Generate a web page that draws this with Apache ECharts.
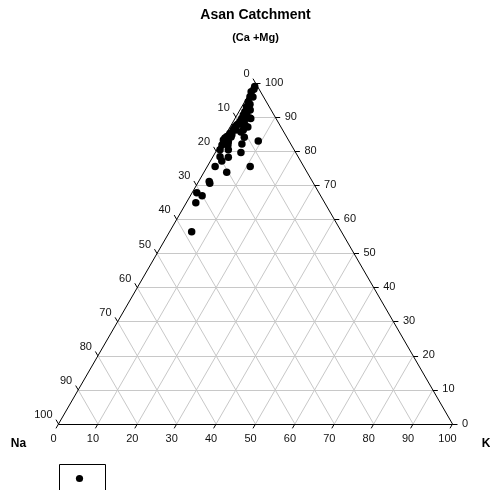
<!DOCTYPE html>
<html><head><meta charset="utf-8">
<script src="https://cdn.jsdelivr.net/npm/echarts@6/dist/echarts.min.js"></script>
<style>html,body{margin:0;padding:0;background:#fff}#c{width:490px;height:490px}</style>
</head><body><div id="c"></div>
<script>
// ---- data (percentages) ----
const tickValues = [0,10,20,30,40,50,60,70,80,90,100];
const chartTitle = 'Asan Catchment';
const apexLabel = '(Ca +Mg)';
const leftVertexLabel = 'Na';
const rightVertexLabel = 'K';

const caMg = [99.0,98.2,96.0,94.5,93.0,91.6,90.6,89.6,89.6,88.7,87.7,87.7,86.2,86.2,85.2,84.3,84.1,83.3,82.8,83.0,82.1,80.4,80.4,79.6,78.4,78.2,77.1,75.5,75.5,73.8,71.1,70.6,67.8,66.9,64.9,56.4,
              97.4,95.9,93.8,92.1,91.2,89.7,89.4,87.1,88.0,85.6,86.2,84.8,87.1,84.2,87.7,83.9,81.8,81.8];
const kPct = [0.3,0.5,0.6,0.9,1.2,1.5,1.6,1.7,4.0,1.7,1.4,3.5,1.2,3.8,0.9,0.6,5.1,0.2,1.7,9.2,5.5,0.8,2.9,6.5,1.8,4.0,2.9,2.0,10.9,5.8,2.7,3.1,1.2,3.0,2.4,5.6,
              0.2,1.4,1.7,2.6,2.2,3.7,2.6,4.5,1.6,3.5,1.9,1.6,1.2,1.7,3.0,0.3,2.1,0.6];
const naPct = [0.7,1.3,3.4,4.6,5.8,6.9,7.8,8.7,6.4,9.6,10.9,8.8,12.6,10.0,13.9,15.1,10.8,16.5,15.5,7.8,12.4,18.8,16.7,13.9,19.8,17.8,20.0,22.5,13.6,20.4,26.2,26.3,31.0,30.1,32.7,38.0,
              2.4,2.7,4.5,5.3,6.6,6.6,8.0,8.4,10.4,10.9,11.9,13.6,11.7,14.1,9.3,15.8,16.1,17.6];

// ---- ternary -> cartesian (data units) ----
const H = Math.sqrt(3) / 2;
function toXY(c, k, na) {
  const s = c + k + na;
  c = c / s * 100; k = k / s * 100;
  return [k + c / 2, c * H];
}
const FONT = '"Liberation Sans", Arial, sans-serif';
const TL = 1.27; // tick length in data units (~5px)

const gridSegs = [];
for (const v of tickValues) {
  if (v === 0 || v === 100) continue;
  gridSegs.push({coords: [toXY(v, 0, 100 - v), toXY(v, 100 - v, 0)]});
  gridSegs.push({coords: [toXY(0, v, 100 - v), toXY(100 - v, v, 0)]});
  gridSegs.push({coords: [toXY(0, 100 - v, v), toXY(100 - v, 0, v)]});
}
const A = toXY(0, 0, 100), B = toXY(0, 100, 0), C = toXY(100, 0, 0);
const edgeSegs = [{coords: [A, B]}, {coords: [B, C]}, {coords: [C, A]}];
const tickSegs = [];
const bottomPts = [], rightPts = [], leftPts = [];
for (const t of tickValues) {
  const pb = toXY(0, t, 100 - t);
  tickSegs.push({coords: [pb, [pb[0] - 0.5 * TL, pb[1] - H * TL]]});
  bottomPts.push([pb, t]);
  const pr = toXY(t, 100 - t, 0);
  tickSegs.push({coords: [pr, [pr[0] + TL, pr[1]]]});
  rightPts.push([pr, t]);
  const pl = toXY(100 - t, 0, t);
  tickSegs.push({coords: [pl, [pl[0] - 0.5 * TL, pl[1] + H * TL]]});
  leftPts.push([pl, t]);
}

function labelSeries(pts, dx, dy, align) {
  return {
    type: 'scatter', symbolSize: 1, silent: true, clip: false, z: 6,
    itemStyle: {color: 'rgba(0,0,0,0)', opacity: 1},
    data: pts.map(([p, t]) => ({value: p, name: String(t)})),
    label: {show: true, formatter: '{b}', position: [dx, dy], align: align, verticalAlign: 'middle',
            fontSize: 11, fontFamily: FONT, color: '#111', opacity: 1}
  };
}
function segSeries(data, color, z) {
  return {type: 'lines', coordinateSystem: 'cartesian2d', silent: true, z: z,
          lineStyle: {color: color, width: 1, opacity: 1}, data: data};
}

const points = caMg.map((c, i) => toXY(c, kPct[i], naPct[i]));

// axis extents so that x 0..100 spans px 58.5..452.5 and y 0..86.6 spans px 424..83
const SX = 3.94, SY = 341 / (100 * H);
const chart = echarts.init(document.getElementById('c'), null, {renderer: 'canvas'});
chart.setOption({
  animation: false,
  backgroundColor: '#fff',
  grid: {left: 0, right: 0, top: 0, bottom: 0},
  xAxis: {type: 'value', show: false, min: -58.5 / SX, max: (490 - 58.5) / SX},
  yAxis: {type: 'value', show: false, min: -(490 - 424) / SY, max: 424 / SY},
  series: [
    segSeries(gridSegs, '#c8c8c8', 1),
    segSeries(edgeSegs, '#000', 2),
    segSeries(tickSegs, '#000', 2),
    labelSeries(bottomPts, -4.5, 15, 'center'),
    labelSeries(rightPts, 10, 0, 'left'),
    labelSeries(leftPts, -5.5, -8.5, 'right'),
    {type: 'scatter', name: 'Asan', data: points, symbol: 'circle', symbolSize: 7.5, clip: false, z: 8,
     itemStyle: {color: '#000', opacity: 1, borderWidth: 0}, silent: true}
  ],
  graphic: [
    {type: 'text', x: 255.5, y: 15, style: {text: chartTitle, font: 'bold 14px ' + FONT, fill: '#000', textAlign: 'center', textVerticalAlign: 'middle'}},
    {type: 'text', x: 255.5, y: 37.5, style: {text: apexLabel, font: 'bold 11px ' + FONT, fill: '#000', textAlign: 'center', textVerticalAlign: 'middle'}},
    {type: 'text', x: 18.5, y: 444, style: {text: leftVertexLabel, font: 'bold 12px ' + FONT, fill: '#000', textAlign: 'center', textVerticalAlign: 'middle'}},
    {type: 'text', x: 486, y: 444, style: {text: rightVertexLabel, font: 'bold 12px ' + FONT, fill: '#000', textAlign: 'center', textVerticalAlign: 'middle'}},
    {type: 'rect', shape: {x: 59.5, y: 464.5, width: 46, height: 40}, style: {fill: '#fff', stroke: '#000', lineWidth: 1}},
    {type: 'circle', shape: {cx: 79.5, cy: 478.5, r: 3.6}, style: {fill: '#000'}}
  ]
});
</script></body></html>
